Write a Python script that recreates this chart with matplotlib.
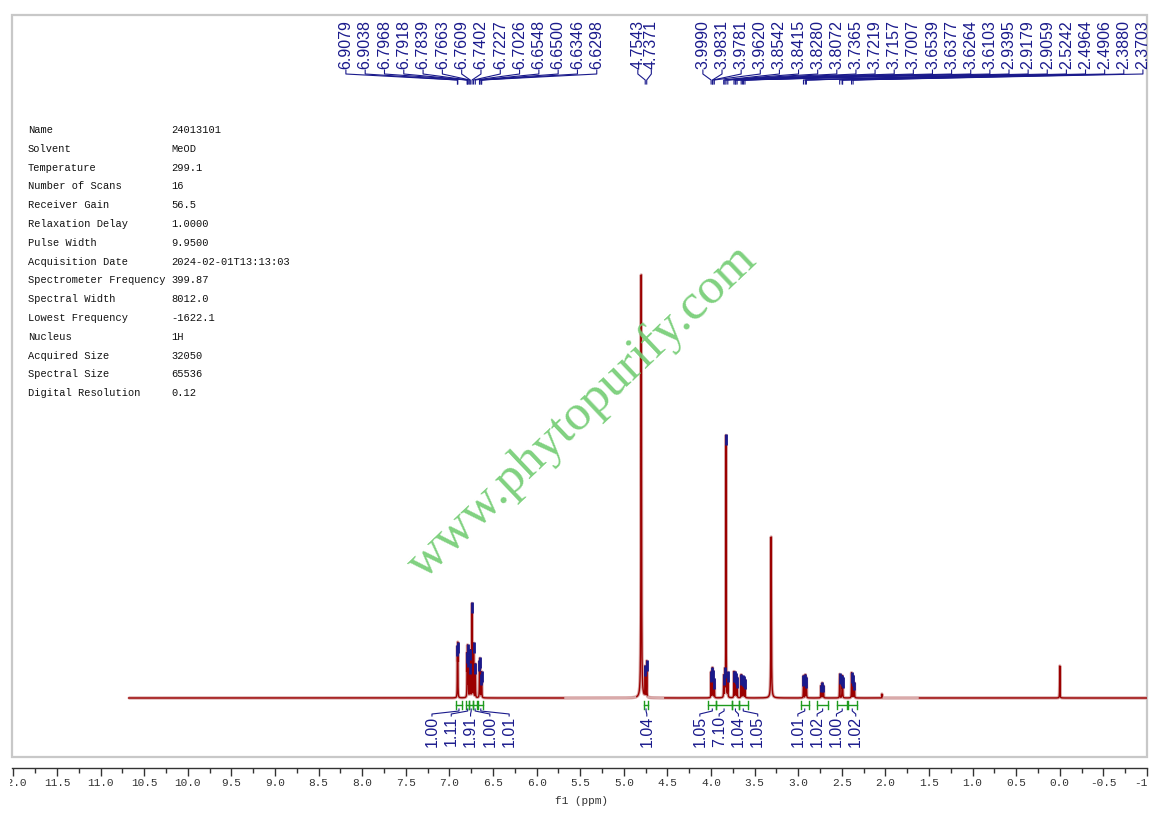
import numpy as np
import matplotlib.pyplot as plt
from matplotlib.patches import Rectangle
from matplotlib.ticker import MultipleLocator
from matplotlib.transforms import blended_transform_factory, Bbox, TransformedBbox, IdentityTransform

# acquisition parameters (left table)
param_names = ["Name", "Solvent", "Temperature", "Number of Scans", "Receiver Gain",
               "Relaxation Delay", "Pulse Width", "Acquisition Date",
               "Spectrometer Frequency", "Spectral Width", "Lowest Frequency",
               "Nucleus", "Acquired Size", "Spectral Size", "Digital Resolution"]
param_values = ["24013101", "MeOD", "299.1", "16", "56.5", "1.0000", "9.9500",
                "2024-02-01T13:13:03", "399.87", "8012.0", "-1622.1", "1H",
                "32050", "65536", "0.12"]

# peak list: shift (ppm), height (px above baseline)
peak_ppm = [6.9079, 6.9038, 6.7968, 6.7918, 6.7839, 6.7663, 6.7609, 6.7402,
            6.7227, 6.7026, 6.6548, 6.6500, 6.6346, 6.6298,
            4.8000, 4.7543, 4.7371,
            3.9990, 3.9831, 3.9781, 3.9620, 3.8542, 3.8415, 3.8280, 3.8072,
            3.7365, 3.7219, 3.7157, 3.7007, 3.6539, 3.6377, 3.6264, 3.6103,
            3.3100,
            2.9395, 2.9179, 2.9059, 2.7400, 2.7250, 2.7100,
            2.5242, 2.4964, 2.4906, 2.3880, 2.3703, 2.3550,
            2.0400, 0.0000]
peak_height = [46, 50, 40, 48, 38, 30, 45, 95,
               54, 34, 33, 36, 20, 24,
               423, 30, 36,
               26, 28, 24, 18, 22, 26, 262, 24,
               26, 24, 22, 20, 23, 21, 20, 18,
               161,
               22, 23, 20, 12, 15, 12,
               24, 21, 19, 25, 22, 15,
               4, 32]
# peaks without a peak-pick marker (water, solvent, impurity, TMS)
unpicked_ppm = [4.8000, 3.3100, 2.0400, 0.0000]
broad_ppm = [4.8000, 3.3100]

# peak labels along the top
label_groups = [
    [6.9079, 6.9038, 6.7968, 6.7918, 6.7839, 6.7663, 6.7609, 6.7402,
     6.7227, 6.7026, 6.6548, 6.6500, 6.6346, 6.6298],
    [4.7543, 4.7371],
    [3.9990, 3.9831, 3.9781, 3.9620, 3.8542, 3.8415, 3.8280, 3.8072,
     3.7365, 3.7219, 3.7157, 3.7007, 3.6539, 3.6377, 3.6264, 3.6103,
     2.9395, 2.9179, 2.9059, 2.5242, 2.4964, 2.4906, 2.3880, 2.3703],
]

# integrals: ranges (ppm) and values
integral_groups = [
    ([(6.92, 6.86), (6.81, 6.77), (6.77, 6.73), (6.73, 6.68), (6.67, 6.61)],
     ["1.00", "1.11", "1.91", "1.00", "1.01"]),
    ([(4.77, 4.72)], ["1.04"]),
    ([(4.03, 3.94), (3.94, 3.76), (3.76, 3.68), (3.68, 3.58)],
     ["1.05", "7.10", "1.04", "1.05"]),
    ([(2.97, 2.88), (2.78, 2.66), (2.55, 2.44), (2.43, 2.33)],
     ["1.01", "1.02", "1.00", "1.02"]),
]

light_ranges = [(5.67, 4.87), (4.72, 4.55), (2.02, 1.63)]

RED = "#9b0000"
PINK = "#d9aaaa"
NAVY = "#1a1a8c"
GREEN = "#1e9a1e"

W, H = 1162, 815
fig = plt.figure(figsize=(W / 100, H / 100), dpi=100)
# frame spans pixels x 12..1147, y 15..757
ax = fig.add_axes([12 / W, (H - 757) / H, (1147 - 12) / W, (757 - 15) / H])
ax.set_xlim(12.016, -0.998)
ax.set_ylim(-59, 683)


def py(ypix):
    # pixel row (from top) -> axes fraction
    return (757 - ypix) / 742


# spectrum built from the peak list (Lorentzian lines)
x = np.arange(-1.0, 10.68, 0.0004)[::-1]
y = np.zeros_like(x)
for p, h in zip(peak_ppm, peak_height):
    w = 0.003 if p in broad_ppm else 0.0016
    y += h / (1 + ((x - p) / w) ** 2)

ax.plot(x, y, color=PINK, lw=2.4, solid_capstyle="butt", zorder=2)
ax.plot(x, y, color=RED, lw=1.0, zorder=3)
for a, b in light_ranges:
    m = (x <= a) & (x >= b)
    ax.plot(x[m], y[m], color=PINK, lw=1.6, zorder=4)

# peak-pick markers
for p in peak_ppm:
    if p in unpicked_ppm:
        continue
    h = np.interp(p, x[::-1], y[::-1])
    ax.vlines(p, h - min(0.5 * h, 10), h + 1, color=NAVY, lw=2.0, zorder=5)

bt = blended_transform_factory(ax.transData, ax.transAxes)

# top peak labels with connectors
label_start = [8.187, 4.839, 4.093]
label_step = [0.2213, 0.1548, 0.2194]
for grp, x0, dx in zip(label_groups, label_start, label_step):
    for i, p in enumerate(grp):
        xl = x0 - i * dx
        ax.text(xl, py(69), f"{p:.4f}", rotation=90, ha="center", va="bottom",
                fontsize=11.5, color=NAVY, family="Liberation Sans",
                transform=bt, clip_on=True)
        ax.plot([xl, xl, p, p], [py(70), py(74), py(80), py(84)],
                color=NAVY, lw=0.8, transform=bt, clip_on=True)

# integrals
int_start = [7.200, 4.736, 4.128, 3.004]
int_step = 0.2213
for (ranges, vals), x0 in zip(integral_groups, int_start):
    for i, ((a, b), v) in enumerate(zip(ranges, vals)):
        xc = (a + b) / 2
        xl = x0 - i * int_step
        ax.plot([a, b], [py(705), py(705)], color=GREEN, lw=1.0, transform=bt)
        ax.plot([a, a], [py(701), py(709)], color=GREEN, lw=1.0, transform=bt)
        ax.plot([b, b], [py(701), py(709)], color=GREEN, lw=1.0, transform=bt)
        ax.plot([xc, xc, xl, xl], [py(709), py(711), py(714), py(716)],
                color=NAVY, lw=0.8, transform=bt)
        ax.text(xl, py(716), v, rotation=90, ha="center", va="top",
                fontsize=11.5, color=NAVY, family="Liberation Sans", transform=bt)

# frame and axis
for s in ["top", "left", "right"]:
    ax.spines[s].set_visible(False)
ax.add_patch(Rectangle((0, 0), 1, 1, transform=ax.transAxes, fill=False,
                       edgecolor="#c8c8c8", lw=1.6, clip_on=False, zorder=1))
ax.spines["bottom"].set_position(("outward", 7.9))
ax.spines["bottom"].set_color("#333333")
ax.spines["bottom"].set_linewidth(1.0)
ax.set_yticks([])
ax.xaxis.set_major_locator(MultipleLocator(0.5))
ax.xaxis.set_minor_locator(MultipleLocator(0.25))
ax.tick_params(axis="x", which="major", length=6, width=1.0, color="#333333",
               labelsize=8, labelcolor="#333333", pad=1.5)
ax.tick_params(axis="x", which="minor", length=3.5, width=1.0, color="#333333")
ax.set_xticks(np.arange(12.0, -1.01, -0.5))
ax.set_xticklabels([f"{t:.1f}" for t in np.arange(12.0, -1.01, -0.5)],
                   family="Liberation Mono")
ax.set_xlabel("f1 (ppm)", family="Liberation Mono", fontsize=8,
              color="#333333")
ax.xaxis.set_label_coords(0.502, -0.052)

# parameter table
for i, (n, v) in enumerate(zip(param_names, param_values)):
    yy = 1 - (130 + i * 18.8) / H
    fig.text(28 / W, yy, n, fontsize=7.5, family="Liberation Mono",
             color="#111111", va="center")
    fig.text(171 / W, yy, v, fontsize=7.5, family="Liberation Mono",
             color="#111111", va="center")

# watermark
fig.text(582 / W, 1 - 412 / H, "www.phytopurify.com", rotation=43.5,
         rotation_mode="anchor", ha="center", va="center", fontsize=37,
         family="Liberation Serif", color="#72cc72", alpha=0.9, zorder=10)

fig.canvas.draw()
clip = TransformedBbox(Bbox([[10, 0], [1147, H]]), IdentityTransform())
for t in ax.xaxis.get_major_ticks():
    t.label1.set_clip_box(clip)
    t.label1.set_clip_on(True)

fig.savefig("out.png", dpi=100)
